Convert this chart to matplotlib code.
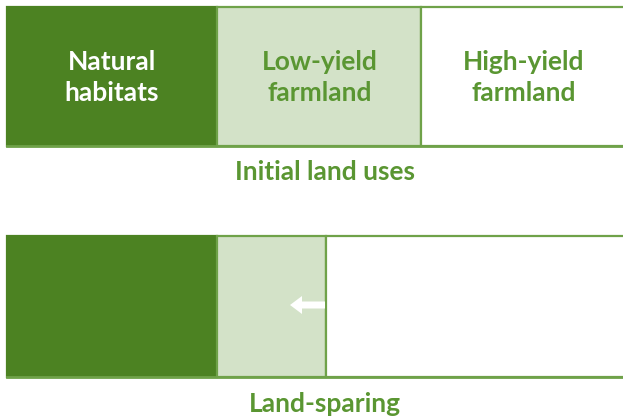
import matplotlib
matplotlib.use("Agg")
import matplotlib.pyplot as plt

# segment widths (pixel-like units)
segments = ["Natural\nhabitats", "Low-yield\nfarmland", "High-yield\nfarmland"]
initial_widths = [210, 204, 215]
sparing_widths = [210, 109, 310]
rows = ["Initial land uses", "Land-sparing"]

dark = "#4C8222"
light = "#D3E2C8"
edge = "#6FA249"
text_green = "#5A9632"
fills = [dark, light, "white"]
edges = [dark, edge, edge]
text_colors = ["white", text_green, text_green]
text_x = [112, 320, 524]

plt.rcParams['font.family'] = ['Lato', 'DejaVu Sans']

fig = plt.figure(figsize=(6.23, 4.18), dpi=100)
ax = fig.add_axes([0, 0, 1, 1])
ax.set_xlim(0, 623)
ax.set_ylim(418, 0)
ax.axis("off")

def draw_row(widths, top, height, label, label_y, show_text):
    left = 7
    for w, c, ec, name, tc, tx in zip(widths, fills, edges, segments, text_colors, text_x):
        ax.barh(top + height / 2, w, height=height, left=left, color=c,
                edgecolor=ec, linewidth=1.6)
        if show_text:
            ax.text(tx, top + height / 2 + 1, name, ha="center", va="center",
                    color=tc, fontsize=19, fontweight="bold", linespacing=1.35)
        left += w
    ax.plot([7, 623], [top + height, top + height], color=edge, lw=2)
    ax.text(325, label_y, label, ha="center", va="center", color=text_green,
            fontsize=19, fontweight="bold")

draw_row(initial_widths, 7, 139, rows[0], 172, True)
draw_row(sparing_widths, 236, 141, rows[1], 404, False)

# arrow showing farmland shrinking
boundary = 7 + sparing_widths[0] + sparing_widths[1]
ax.arrow(boundary - 1, 305, -35, 0, width=7, head_width=18, head_length=12,
         length_includes_head=True, color="white", lw=0, zorder=5)

fig.savefig("out.png", dpi=100)
